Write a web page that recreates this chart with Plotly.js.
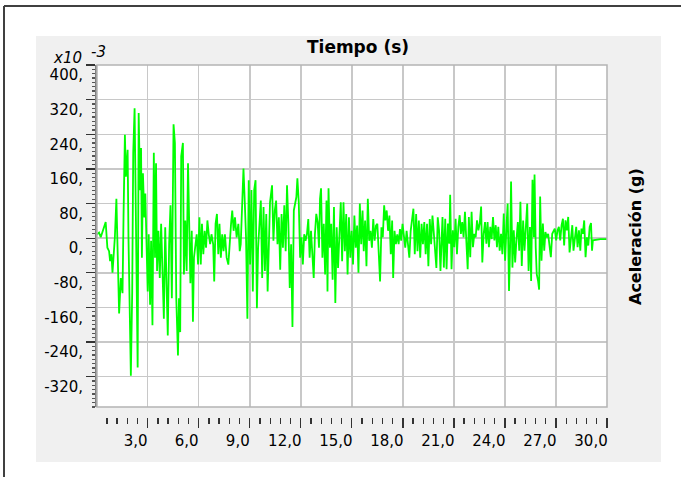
<!DOCTYPE html>
<html>
<head>
<meta charset="utf-8">
<script src="https://cdn.plot.ly/plotly-3.0.1.min.js"></script>
<style>html,body{margin:0;padding:0;background:#fff;}</style>
</head>
<body>
<div id="chart" style="width:681px;height:477px;"></div>
<script>
// Time (s)
const tiempo = [
0.00,0.14,0.24,0.39,0.53,0.63,0.73,0.79,0.87,0.93,1.07,1.16,1.26,1.32,1.42,1.52,1.58,1.66,1.72,1.82,1.87,1.95,2.01,2.09,2.15,2.23,2.31,2.37,2.41,2.47,2.55,2.61,2.66,2.72,2.80,2.86,2.94,3.00,3.06,3.14,3.20,3.28,3.36,3.43,3.49,3.55,3.63,3.71,3.79,3.89,3.95,4.03,4.11,4.18,4.26,4.34,4.42,4.52,4.60,4.68,4.78,4.84,4.91,4.97,5.07,5.13,5.21,5.29,5.37,5.45,5.51,5.59,5.66,5.72,5.80,5.88,5.96,6.04,6.12,6.19,6.27,6.35,6.43,6.51,6.59,6.67,6.75,6.85,6.91,6.99,7.07,7.15,7.22,7.30,7.38,7.46,7.54,7.64,7.74,7.82,7.90,7.97,8.05,8.13,8.23,8.33,8.41,8.47,8.55,8.63,8.71,8.78,8.86,8.94,9.02,9.10,9.18,9.26,9.34,9.42,9.49,9.57,9.65,9.73,9.81,9.89,9.97,10.05,10.13,
10.19,10.31,10.39,10.47,10.55,10.63,10.71,10.79,10.87,10.95,11.03,11.11,11.19,11.27,11.35,11.43,11.51,11.59,11.66,11.74,11.80,11.88,11.96,12.04,12.12,12.20,12.28,12.36,12.44,12.52,12.60,12.68,12.76,12.83,12.91,12.99,13.07,13.13,13.19,13.27,13.35,13.43,13.51,13.57,13.63,13.71,13.79,13.87,13.95,14.03,14.11,14.19,14.27,14.35,14.43,14.51,14.59,14.67,14.75,14.83,14.91,14.99,15.07,15.15,15.23,15.31,15.39,15.47,15.55,15.63,15.70,15.78,15.86,15.94,16.02,16.10,16.18,16.26,16.34,16.42,16.50,16.58,16.66,16.74,16.82,16.90,16.97,17.05,17.13,17.21,17.29,17.37,17.43,17.51,17.59,17.67,17.75,17.83,17.90,17.98,18.06,18.14,18.22,18.30,18.38,18.46,18.54,18.62,18.70,18.78,18.86,18.94,19.02,19.10,19.18,19.26,19.34,19.42,19.50,19.58,19.66,19.74,19.81,19.89,19.97,20.05,20.13,20.21,20.29,
20.33,20.41,20.49,20.57,20.65,20.73,20.78,20.86,20.94,21.02,21.10,21.18,21.26,21.34,21.41,21.49,21.57,21.65,21.73,21.81,21.88,21.96,22.04,22.12,22.20,22.28,22.36,22.44,22.52,22.60,22.67,22.75,22.83,22.91,22.98,23.06,23.14,23.22,23.30,23.38,23.46,23.53,23.61,23.69,23.77,23.85,23.93,24.01,24.09,24.16,24.24,24.30,24.36,24.44,24.52,24.60,24.68,24.76,24.84,24.91,24.99,25.07,25.15,25.23,25.31,25.39,25.47,25.54,25.62,25.70,25.74,25.81,25.87,25.95,26.01,26.07,26.15,26.23,26.31,26.38,26.46,26.54,26.62,26.70,26.78,26.86,26.93,27.01,27.09,27.17,27.25,27.33,27.41,27.48,27.56,27.64,27.72,27.80,27.88,27.96,28.03,28.11,28.19,28.27,28.35,28.43,28.50,28.58,28.66,28.74,28.82,28.90,28.98,29.06,29.12,29.17,29.31,29.51,29.61,29.90,30.00
];
// Acceleration (x10^-3 g)
const aceleracion = [
8,13,2,21,37,-22,-30,-53,-37,-80,2,91,-108,-174,-92,-127,52,239,142,204,2,-201,-318,-123,197,300,2,-201,-299,289,111,208,-45,150,48,103,-14,-123,9,-154,-6,-201,197,-45,173,-76,17,-92,33,-154,-186,25,-139,-225,-14,76,-139,263,220,-139,-271,-139,-217,189,220,-84,41,-76,173,48,-104,17,-193,-45,-14,9,-61,48,-61,33,-37,17,-22,41,9,-14,9,-14,-100,33,56,-37,33,-45,9,-30,9,-45,-61,2,33,64,17,48,2,33,-30,-14,64,161,80,2,-186,134,-61,111,-123,111,134,-162,-22,33,87,-92,72,-76,56,-123,25,
83,122,-6,64,87,-14,48,-73,56,-22,76,-30,122,33,-115,-14,-205,64,80,95,138,83,-45,2,-61,9,-6,9,44,-45,17,-53,-92,9,56,37,-22,91,115,-45,33,-84,87,-123,115,-22,33,-96,72,-150,25,-69,-6,83,-53,83,-30,56,-84,48,-45,17,-61,52,-22,29,-80,80,-14,64,-30,41,-65,91,-6,17,-22,44,-6,29,33,-22,-100,25,2,76,41,64,17,52,-37,41,-92,17,-14,9,-14,21,-6,33,2,-22,17,-14,-45,17,52,68,-37,56,-30,41,-45,33,-14,37,-37,33,-65,44,-14,52,17,-22,-69,48,17,-76,48,
49,-68,45,-72,34,-13,100,-72,18,-21,45,-37,26,53,10,37,2,61,-5,-72,49,-44,61,-21,10,2,41,18,34,73,-56,10,37,-13,37,-21,26,-2,49,-5,30,-21,26,-29,10,-37,57,-52,26,80,-122,-29,131,-68,18,-56,-2,37,-29,84,-64,41,-29,18,80,-76,26,-99,135,2,147,-21,-83,-99,-119,96,-52,34,-29,14,2,10,-21,-44,10,18,22,-5,18,26,-5,30,45,-17,41,18,49,-33,10,30,-29,-5,26,-21,18,-29,22,10,41,-44,2,-17,26,35,-29,-5,-4,-2,-2,-2,-2
];
const xTickVals = [3,6,9,12,15,18,21,24,27,30];
const xTickText = ['3,0','6,0','9,0','12,0','15,0','18,0','21,0','24,0','27,0','30,0'];
const yTickVals = [400,320,240,160,80,0,-80,-160,-240,-320];
const yTickText = ['400,','320,','240,','160,','80,','0,','-80,','-160,','-240,','-320,'];

const W = 681, H = 477;
const M = {l: 97, r: 74, t: 65, b: 60};
const pw = W - M.l - M.r, ph = H - M.t - M.b;
const px = v => (v - M.l) / pw;
const py = v => (H - M.b - v) / ph;

const FONT = 'DejaVu Sans';
const XRANGE = [0.02, 30];

// labels are right-aligned to their tick in the reference: split short / long labels
const shortIdx = xTickText.map((t, i) => t.length <= 3 ? i : -1).filter(i => i >= 0);
const longIdx = xTickText.map((t, i) => t.length > 3 ? i : -1).filter(i => i >= 0);

const trace = {
  x: tiempo, y: aceleracion, type: 'scatter', mode: 'lines',
  line: {color: '#00ff00', width: 1.8},
  hoverinfo: 'skip'
};
const labelTrace = {x: [], y: [], xaxis: 'x2', yaxis: 'y', type: 'scatter', mode: 'lines', hoverinfo: 'skip', showlegend: false};

const strip = (x0, x1, y0, y1) => ({
  type: 'rect', xref: 'paper', yref: 'paper', layer: 'below',
  x0: px(x0), x1: px(x1), y0: py(y1), y1: py(y0),
  fillcolor: '#ffffff', line: {width: 0}
});

const layout = {
  width: W, height: H,
  margin: M,
  paper_bgcolor: '#f0f0f0',
  plot_bgcolor: '#ffffff',
  showlegend: false,
  font: {family: FONT, size: 15, color: '#000000'},
  title: {
    text: '<b>Tiempo (s)</b>',
    font: {family: FONT, size: 17, color: '#000000'},
    xref: 'paper', x: px(358), xanchor: 'center',
    yref: 'container', y: 1 - 47 / H, yanchor: 'middle'
  },
  xaxis: {
    range: XRANGE,
    anchor: 'free', position: 0,
    tickmode: 'array', tickvals: xTickVals,
    ticktext: xTickText.map((t, i) => shortIdx.includes(i) ? t : ''),
    ticks: 'outside', ticklen: 10, tickwidth: 1.3, tickcolor: '#333333',
    ticklabelshift: -12,
    tickfont: {family: FONT, size: 15},
    showgrid: true, gridcolor: '#c8c8c8', gridwidth: 1.5,
    zeroline: false, showline: false,
    minor: {tickmode: 'linear', tick0: 0, dtick: 0.6, ticks: 'outside', ticklen: 6, tickwidth: 1.3, tickcolor: '#333333', showgrid: false}
  },
  xaxis2: {
    range: XRANGE,
    overlaying: 'x', anchor: 'free', position: 0,
    tickmode: 'array',
    tickvals: longIdx.map(i => xTickVals[i]),
    ticktext: longIdx.map(i => xTickText[i]),
    ticks: 'outside', ticklen: 10, tickwidth: 1, tickcolor: 'rgba(0,0,0,0)',
    ticklabelshift: -16,
    tickfont: {family: FONT, size: 15},
    showgrid: false, zeroline: false, showline: false
  },
  yaxis: {
    range: [-390, 400],
    domain: [10 / ph, 1],
    tickmode: 'array', tickvals: yTickVals, ticktext: yTickText,
    ticks: 'outside', ticklen: 9, tickwidth: 1.3, tickcolor: '#333333',
    ticklabelshift: 10,
    tickfont: {family: FONT, size: 15},
    showgrid: true, gridcolor: '#c8c8c8', gridwidth: 1.5,
    zeroline: false,
    showline: true, linecolor: '#808080', linewidth: 2,
    minor: {tickmode: 'linear', tick0: 0, dtick: 10, ticks: 'outside', ticklen: 3, tickwidth: 1.2, tickcolor: '#555555', showgrid: false}
  },
  shapes: [
    {type: 'rect', xref: 'x domain', yref: 'y domain', x0: 0, x1: 1, y0: 0, y1: 1,
     line: {color: '#b4b4b4', width: 1.5}, layer: 'above'},
    strip(0, W, 0, 36),
    strip(0, W, 462, H),
    strip(0, 36, 0, H),
    strip(661, W, 0, H),
    {type: 'line', xref: 'paper', yref: 'paper', x0: px(4), x1: px(W), y0: py(6), y1: py(6),
     line: {color: '#404040', width: 2}},
    {type: 'line', xref: 'paper', yref: 'paper', x0: px(4), x1: px(4), y0: py(6), y1: py(H),
     line: {color: '#404040', width: 2}}
  ],
  annotations: [
    {text: '<b>Aceleración (g)</b>', textangle: -90, showarrow: false,
     xref: 'paper', yref: 'paper', x: px(635), y: py(237), xanchor: 'center', yanchor: 'middle',
     font: {family: FONT, size: 16, color: '#000000'}},
    {text: '<i>x10</i>', showarrow: false, xref: 'paper', yref: 'paper',
     x: px(67), y: py(58), xanchor: 'center', yanchor: 'middle',
     font: {family: FONT, size: 15, color: '#000000'}},
    {text: '<i>-3</i>', showarrow: false, xref: 'paper', yref: 'paper',
     x: px(98), y: py(52), xanchor: 'center', yanchor: 'middle',
     font: {family: FONT, size: 15, color: '#000000'}}
  ]
};

Plotly.newPlot('chart', [trace, labelTrace], layout, {staticPlot: true, displayModeBar: false});
</script>
</body>
</html>
